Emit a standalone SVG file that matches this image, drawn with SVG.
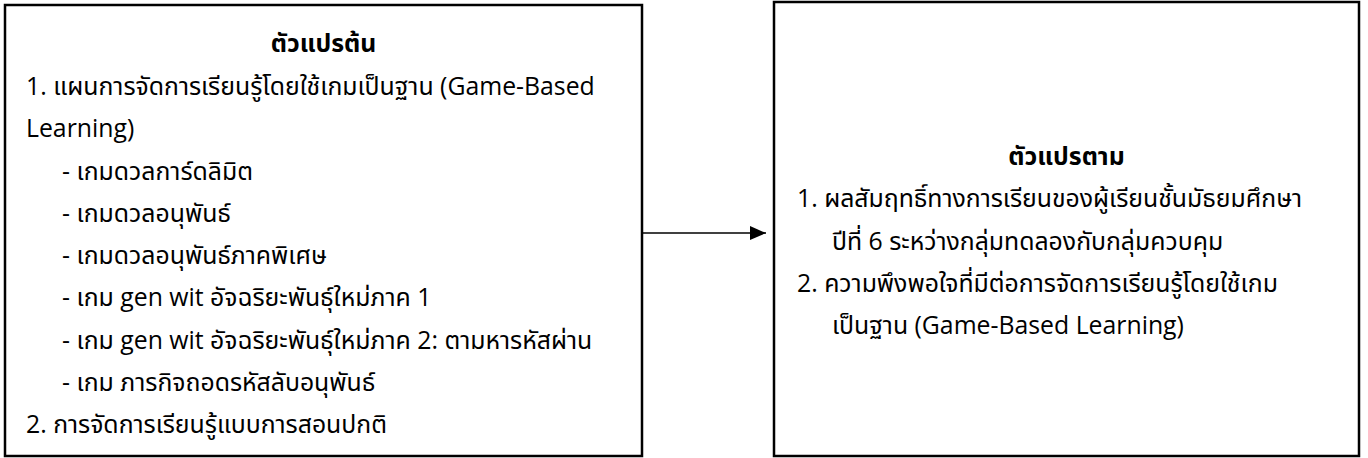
<svg xmlns="http://www.w3.org/2000/svg" width="1368" height="458" viewBox="0 0 1368 458">
<style>
.box{fill:#fff;stroke:#000;stroke-width:2.5}
.t{font-family:"Open Sans","Noto Sans Thai","Noto Sans",sans-serif;font-size:24.8px;fill:#000}
.h{font-weight:bold;text-anchor:middle}
.conn{stroke:#000;stroke-width:1.4;fill:none}
</style>
<defs>
<marker id="ah" markerWidth="16" markerHeight="14" refX="16" refY="7" orient="auto" markerUnits="userSpaceOnUse">
<polygon points="0,0 16,7 0,14" fill="#000"/>
</marker>
</defs>
<rect width="1368" height="458" fill="#fff"/>
<g id="independent">
<rect class="box" x="5" y="5" width="637" height="451"/>
<text class="t h" x="323.5" y="52">ตัวแปรต้น</text>
<text class="t" x="26" y="95">1. แผนการจัดการเรียนรู้โดยใช้เกมเป็นฐาน (Game-Based</text>
<text class="t" x="26" y="137">Learning)</text>
<text class="t" x="62" y="180">- เกมดวลการ์ดลิมิต</text>
<text class="t" x="62" y="222">- เกมดวลอนุพันธ์</text>
<text class="t" x="62" y="264">- เกมดวลอนุพันธ์ภาคพิเศษ</text>
<text class="t" x="62" y="306">- เกม gen wit อัจฉริยะพันธุ์ใหม่ภาค 1</text>
<text class="t" x="62" y="349">- เกม gen wit อัจฉริยะพันธุ์ใหม่ภาค 2: ตามหารหัสผ่าน</text>
<text class="t" x="62" y="391">- เกม ภารกิจถอดรหัสลับอนุพันธ์</text>
<text class="t" x="26" y="433">2. การจัดการเรียนรู้แบบการสอนปกติ</text>
</g>
<g id="dependent">
<rect class="box" x="774" y="2" width="585" height="454"/>
<text class="t h" x="1066.5" y="165">ตัวแปรตาม</text>
<text class="t" x="797" y="207">1. ผลสัมฤทธิ์ทางการเรียนของผู้เรียนชั้นมัธยมศึกษา</text>
<text class="t" x="832" y="250">ปีที่ 6 ระหว่างกลุ่มทดลองกับกลุ่มควบคุม</text>
<text class="t" x="797" y="292">2. ความพึงพอใจที่มีต่อการจัดการเรียนรู้โดยใช้เกม</text>
<text class="t" x="832" y="334">เป็นฐาน (Game-Based Learning)</text>
</g>
<g id="connectors">
<line class="conn" x1="643" y1="233" x2="766" y2="233" marker-end="url(#ah)"/>
</g>
</svg>
